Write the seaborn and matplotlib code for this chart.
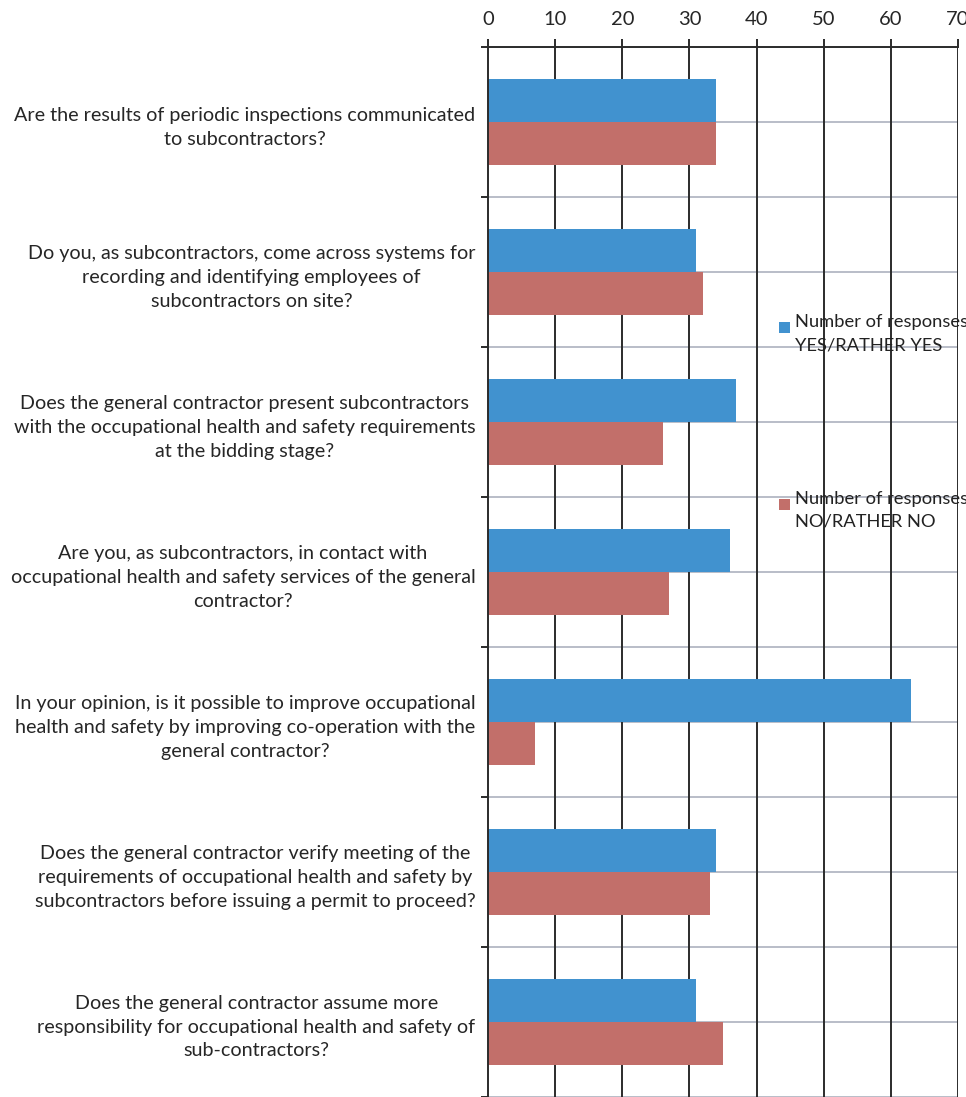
import matplotlib
matplotlib.use("Agg")
import matplotlib.pyplot as plt
import seaborn as sns
import pandas as pd
import numpy as np

questions = [
    "Are the results of periodic inspections communicated\nto subcontractors?",
    "Do you, as subcontractors, come across systems for\nrecording and identifying employees of\nsubcontractors on site?",
    "Does the general contractor present subcontractors\nwith the occupational health and safety requirements\nat the bidding stage?",
    "Are you, as subcontractors, in contact with\noccupational health and safety services of the general\ncontractor?",
    "In your opinion, is it possible to improve occupational\nhealth and safety by improving co-operation with the\ngeneral contractor?",
    "Does the general contractor verify meeting of the\nrequirements of occupational health and safety by\nsubcontractors before issuing a permit to proceed?",
    "Does the general contractor assume more\nresponsibility for occupational health and safety of\nsub-contractors?",
]
yes_responses = [34, 31, 37, 36, 63, 34, 31]
no_responses = [34, 32, 26, 27, 7, 33, 35]
series_names = ["Number of responses\nYES/RATHER YES", "Number of responses\nNO/RATHER NO"]
x_ticks = [0, 10, 20, 30, 40, 50, 60, 70]

df = pd.DataFrame({
    "question": questions * 2,
    "responses": yes_responses + no_responses,
    "series": [series_names[0]] * len(questions) + [series_names[1]] * len(questions),
})

sns.set_theme(style="white")
plt.rcParams["font.family"] = ["Lato", "DejaVu Sans"]
plt.rcParams["text.color"] = "#222222"

fig = plt.figure(figsize=(9.66, 10.97), dpi=100)
ax = fig.add_axes([488 / 966, 0.0, 470 / 966, 1 - 47 / 1097])

sns.barplot(
    data=df, y="question", x="responses", hue="series", orient="y",
    palette=["#4192CF", "#C26F6A"], width=0.573, gap=0, ax=ax,
    saturation=1, legend=True, linewidth=0,
)

n = len(questions)
ax.set_ylim(n - 0.5, -0.5)
ax.set_xlim(0, 70)
ax.set_axisbelow(True)

# horizontal lines at every half category
for y in np.arange(-0.5, n, 0.5):
    ax.axhline(y, color="#B9BDC8", lw=1.4, zorder=0.5)
# vertical grid lines
for x in x_ticks[1:]:
    ax.axvline(x, color="#2b2b2b", lw=1.4, zorder=0.6)

ax.xaxis.tick_top()
ax.set_xticks(x_ticks)
ax.set_xticklabels([str(v) for v in x_ticks], fontsize=14.5)
ax.tick_params(axis="x", which="major", direction="out", length=6, width=1.4,
               color="#2b2b2b", pad=8, top=True, bottom=False)

ax.set_yticks(np.arange(n))
ax.set_yticklabels(questions, fontsize=14.2, multialignment="center", linespacing=1.5)
ax.tick_params(axis="y", which="major", length=0, pad=9)
ax.set_yticks(np.arange(-0.5, n, 1.0), minor=True)
ax.tick_params(axis="y", which="minor", direction="out", length=5, width=1.4,
               color="#2b2b2b", left=True)

for side in ["right", "bottom"]:
    ax.spines[side].set_visible(False)
for side in ["top", "left"]:
    ax.spines[side].set_visible(True)
    ax.spines[side].set_color("#2b2b2b")
    ax.spines[side].set_linewidth(1.4)

ax.set_xlabel("")
ax.set_ylabel("")

leg_fs = 13.2
leg = ax.legend(
    loc="upper left", bbox_to_anchor=(779 / 966, 1 - 314 / 1097),
    bbox_transform=fig.transFigure, frameon=False, fontsize=leg_fs,
    handlelength=0.6, handleheight=2.6, handletextpad=0.25,
    labelspacing=7.5, borderaxespad=0, borderpad=0,
)
for t in leg.get_texts():
    t.set_linespacing(1.55)
# square markers aligned with the first text line
for h in leg.legend_handles:
    h.set_edgecolor("none")
    old_h = h.get_height()
    new_h = 0.6 * leg_fs
    h.set_y(h.get_y() + old_h - new_h - 0.3 * leg_fs)
    h.set_height(new_h)

fig.savefig("out.png", dpi=100)
